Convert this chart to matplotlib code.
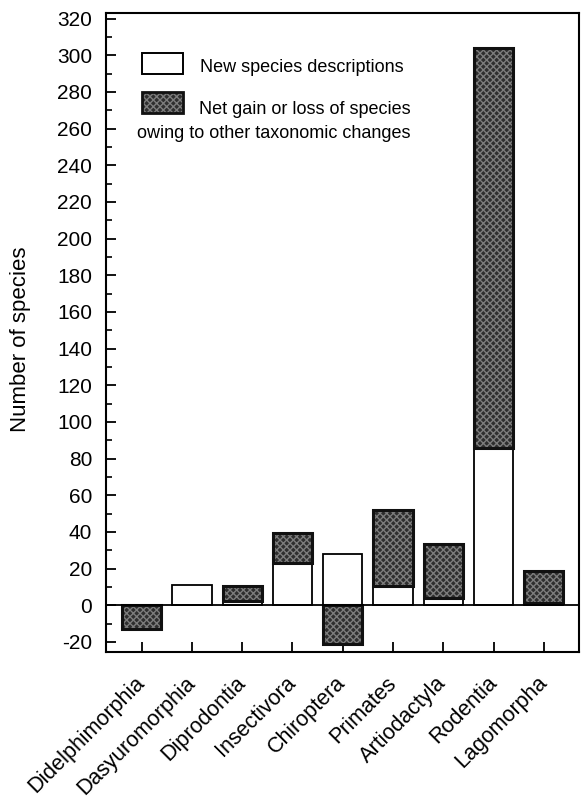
import matplotlib
matplotlib.use("Agg")
import matplotlib.pyplot as plt
from matplotlib.patches import Rectangle
from matplotlib.ticker import MultipleLocator
import numpy as np

plt.rcParams['font.family'] = ['Liberation Sans', 'DejaVu Sans']
plt.rcParams['axes.unicode_minus'] = False

orders = ["Didelphimorphia", "Dasyuromorphia", "Diprodontia", "Insectivora",
          "Chiroptera", "Primates", "Artiodactyla", "Rodentia", "Lagomorpha"]
new_species = [0, 11, 2.5, 23, 28, 10.5, 4, 86, 1]
net_change = [-13, 0, 8, 16.5, -21, 41.5, 29.5, 218, 17.5]
yticks = list(range(-20, 321, 20))

legend_new = "New species descriptions"
legend_net1 = "Net gain or loss of species"
legend_net2 = "owing to other taxonomic changes"
ylabel = "Number of species"

W, H = 585, 808
fig = plt.figure(figsize=(W / 100, H / 100), dpi=100)
ax = fig.add_axes([106 / W, 1 - 652 / H, (579 - 106) / W, (652 - 13) / H])

x = np.arange(len(orders))
new_arr = np.array(new_species, dtype=float)
net_arr = np.array(net_change, dtype=float)
bw = 0.78

plt.rcParams['hatch.linewidth'] = 1.0
dark_face = '#2e2e2e'
hatch_col = '#7c7c7c'

# white bars: new species descriptions
mask_new = new_arr > 0
ax.bar(x[mask_new], new_arr[mask_new], width=bw, color='white',
       edgecolor='black', linewidth=1.3, zorder=2)

# dark bars: net change (stacked on new if positive, from zero if negative)
bottoms = np.where(net_arr > 0, new_arr, 0.0)
mask_net = net_arr != 0
ax.bar(x[mask_net], net_arr[mask_net], bottom=bottoms[mask_net], width=bw,
       color=dark_face, edgecolor=hatch_col, hatch='xxxxx', linewidth=0, zorder=3)
ax.bar(x[mask_net], net_arr[mask_net], bottom=bottoms[mask_net], width=bw,
       fill=False, edgecolor='#111111', linewidth=2.2, zorder=4)

ax.axhline(0, color='black', linewidth=1.3, zorder=5)

ax.set_xlim(-0.71, 8.70)
ax.set_ylim(-25.5, 323)
ax.set_yticks(yticks)
ax.yaxis.set_minor_locator(MultipleLocator(10))
ax.set_xticks(x)
ax.set_xticklabels(orders, rotation=45, ha='right', va='center',
                   rotation_mode='anchor', fontsize=15.5)
ax.tick_params(axis='y', which='major', direction='in', length=7, width=1.3,
               labelsize=15, pad=10, right=False)
ax.tick_params(axis='y', which='minor', direction='in', length=4, width=1.2,
               right=False)
ax.tick_params(axis='x', direction='in', length=7, width=1.3, pad=20, top=False)
for s in ax.spines.values():
    s.set_linewidth(1.5)

fig.text(21 / W, 1 - 339 / H, ylabel, rotation=90, ha='center', va='center',
         fontsize=16)

# legend
fig.patches.append(Rectangle((142 / W, 1 - 74 / H), 41 / W, 21 / H,
                             transform=fig.transFigure, facecolor='white',
                             edgecolor='black', linewidth=1.4))
fig.patches.append(Rectangle((142 / W, 1 - 113 / H), 41 / W, 21 / H,
                             transform=fig.transFigure, facecolor=dark_face,
                             edgecolor=hatch_col, hatch='xxxxx', linewidth=0))
fig.patches.append(Rectangle((142 / W, 1 - 113 / H), 41 / W, 21 / H,
                             transform=fig.transFigure, fill=False,
                             edgecolor='#111111', linewidth=2.0))
fig.text(200 / W, 1 - 68 / H, legend_new, ha='left', va='center', fontsize=13)
fig.text(199 / W, 1 - 110 / H, legend_net1, ha='left', va='center', fontsize=13)
fig.text(137 / W, 1 - 133 / H, legend_net2, ha='left', va='center', fontsize=13)

fig.savefig("out.png", dpi=100)
